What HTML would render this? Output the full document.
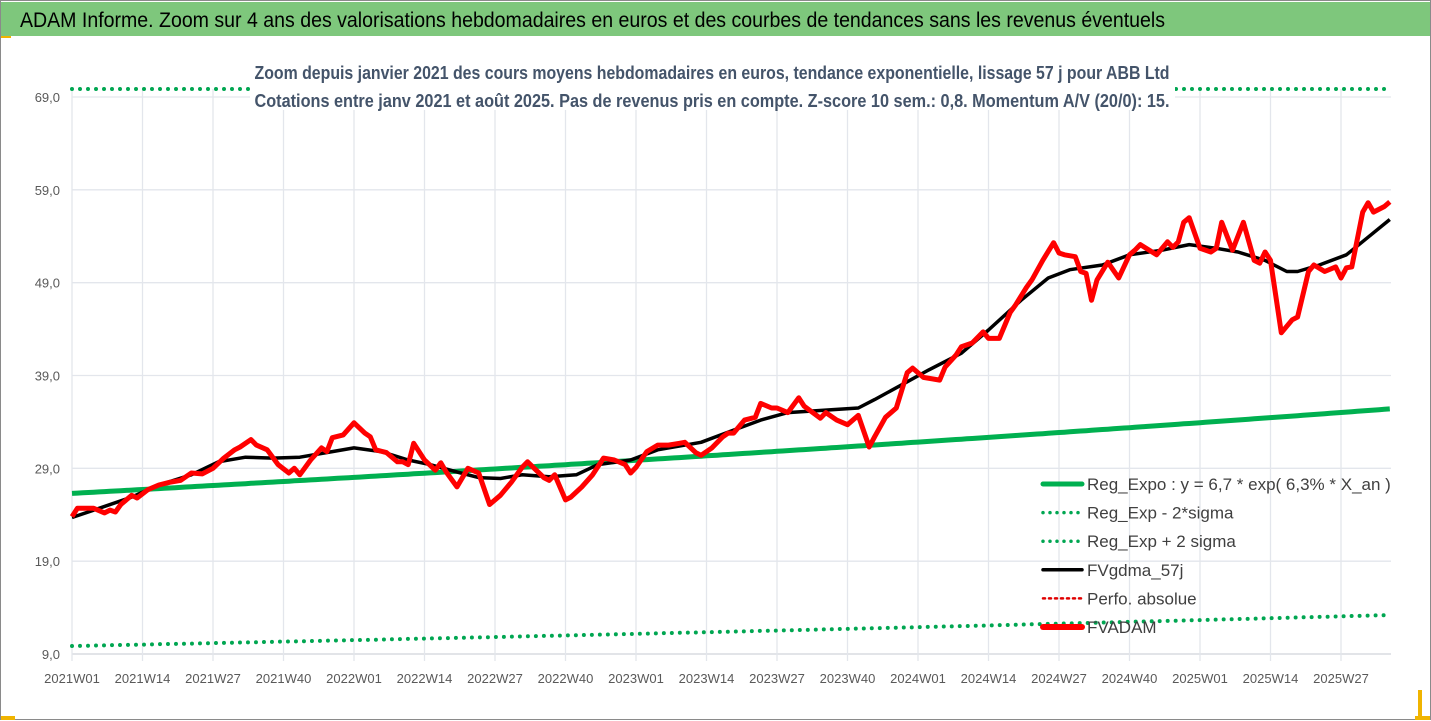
<!DOCTYPE html>
<html><head><meta charset="utf-8"><style>
html,body{margin:0;padding:0;background:#fff;}
svg{display:block;font-family:"Liberation Sans Narrow","Liberation Sans",sans-serif;}
</style></head><body>
<svg id="chart" width="1431" height="721" viewBox="0 0 1431 721" xmlns="http://www.w3.org/2000/svg">
<rect x="0" y="0" width="1431" height="721" fill="#fff"/>
<rect x="0.5" y="0.5" width="1430" height="719" fill="none" stroke="#8a8a8a"/>
<rect x="1" y="2" width="1429" height="34" fill="#7ec77c"/>
<text x="20" y="27" font-size="21" fill="#000" textLength="1145" lengthAdjust="spacingAndGlyphs">ADAM Informe. Zoom sur 4 ans des valorisations hebdomadaires en euros et des courbes de tendances sans les revenus éventuels</text>
<rect x="1" y="36" width="10" height="2" fill="#f0b400"/>
<rect x="1" y="716" width="14" height="4" fill="#f0b400"/>
<rect x="1418" y="690" width="4" height="30" fill="#f0b400"/>
<rect x="1415" y="716" width="15" height="4" fill="#f0b400"/>
<g id="grid"></g>
<g id="axes"></g>
<g id="series"></g>
<rect x="250" y="58" width="925" height="52" fill="#fff"/>
<text x="712" y="79" text-anchor="middle" font-size="18" font-weight="bold" fill="#44546a" textLength="915" lengthAdjust="spacingAndGlyphs">Zoom depuis janvier 2021 des cours moyens hebdomadaires en euros, tendance exponentielle, lissage 57 j pour ABB Ltd</text>
<text x="712" y="107" text-anchor="middle" font-size="18" font-weight="bold" fill="#44546a" textLength="915" lengthAdjust="spacingAndGlyphs">Cotations entre janv 2021 et août 2025. Pas de revenus pris en compte. Z-score 10 sem.: 0,8. Momentum A/V (20/0): 15.</text>
<g id="legend"></g>
</svg>
<script>
// ---- data ----
const xTickLabels = ["2021W01","2021W14","2021W27","2021W40","2022W01","2022W14","2022W27","2022W40","2023W01","2023W14","2023W27","2023W40","2024W01","2024W14","2024W27","2024W40","2025W01","2025W14","2025W27"];
const yTickValues = [9,19,29,39,49,59,69];
const yTickLabels = ["9,0","19,0","29,0","39,0","49,0","59,0","69,0"];
const lastWeek = 243;
const redWeeks = [0,1,4,6,7,8,9,11,12,14,16,18,20,22,24,26,28,30,31,33,34,36,38,40,41,42,44,46,47,48,50,52,54,55,56,58,60,61,62,63,65,67,68,69,71,73,75,77,79,81,83,84,87,88,89,91,92,94,96,98,100,102,103,104,106,108,110,112,113,115,116,118,120,121,122,124,126,127,129,130,132,134,135,138,139,141,143,145,147,148,150,152,154,155,157,160,161,163,164,166,168,169,171,173,174,176,177,179,181,182,183,185,186,187,188,189,191,193,195,196,197,200,202,203,204,205,206,208,210,211,212,214,216,218,219,220,221,223,225,226,228,229,231,233,234,235,236,238,239,240,242,243];
const redVals = [23.8,24.7,24.7,24.2,24.5,24.3,25.1,26.1,25.8,26.7,27.2,27.5,27.7,28.5,28.4,29.0,30.1,31.0,31.3,32.1,31.5,31.0,29.4,28.5,29.0,28.3,29.9,31.2,30.8,32.3,32.6,33.9,32.8,32.4,31.0,30.7,29.7,29.7,29.4,31.7,29.9,28.8,29.6,28.6,27.0,29.0,28.5,25.1,26.1,27.5,29.1,29.7,28.0,27.7,28.3,25.6,25.9,27.0,28.3,30.1,29.9,29.4,28.5,29.1,30.8,31.5,31.5,31.7,31.8,30.7,30.4,31.2,32.4,32.8,32.8,34.2,34.5,36.0,35.5,35.5,35.0,36.6,35.7,34.4,35.0,34.2,33.7,34.7,31.3,32.4,34.5,35.5,39.3,39.8,38.8,38.5,39.9,41.2,42.1,42.5,43.7,43.0,43.0,45.8,46.6,48.5,49.3,51.4,53.3,52.2,52.0,51.8,50.2,50.0,47.1,49.3,51.2,49.5,52.0,52.5,53.1,52.0,53.4,52.8,53.4,55.5,56.0,52.7,52.3,52.7,55.5,52.5,55.5,51.4,51.1,52.3,51.4,43.6,45.0,45.3,50.2,50.9,50.2,50.7,49.5,50.6,50.7,56.6,57.6,56.6,57.2,57.7];
const smaWeeks = [0,5,11,16,22,27,32,37,42,48,52,57,62,66,71,75,79,83,88,93,97,103,108,116,121,127,132,140,145,148,153,158,164,169,175,180,184,190,195,201,206,211,215,220,224,226,230,235,239,243];
const smaVals = [23.7,24.7,25.9,27.2,28.3,29.7,30.2,30.1,30.2,30.8,31.2,30.8,29.9,29.4,28.6,28.0,27.9,28.3,28.1,28.3,29.4,29.9,31.0,31.8,32.9,34.2,35.0,35.3,35.5,36.4,38.0,39.6,41.4,43.9,47.1,49.5,50.4,50.9,52.0,52.5,53.1,52.7,52.3,51.4,50.2,50.2,50.9,52.0,53.9,55.8];
const regStartEnd = [26.3,35.4];
const lowStartEnd = [9.86,13.2];
const upStartEnd = [70.2,94.4];
const legendLabels = ["Reg_Expo : y = 6,7 * exp( 6,3% *  X_an )","Reg_Exp - 2*sigma","Reg_Exp + 2 sigma","FVgdma_57j","Perfo. absolue","FVADAM"];

// ---- axes ----
const X0=72, X1=1391, YB=654, YT=97, VMIN=9, VMAX=69, PTOP=89;
const weekPx = 70.5/13;
const xs = w => X0 + w*weekPx;
const ys = v => YB - (v-VMIN)*(YB-YT)/(VMAX-VMIN);
const vTop = VMIN + (YB-PTOP)*(VMAX-VMIN)/(YB-YT);
const NS="http://www.w3.org/2000/svg";
function mk(tag, attrs, parent){const e=document.createElementNS(NS,tag);for(const k in attrs)e.setAttribute(k,attrs[k]);parent.appendChild(e);return e;}
const grid=document.getElementById('grid'), axes=document.getElementById('axes'), series=document.getElementById('series'), legend=document.getElementById('legend');

yTickValues.forEach((v,i)=>{
  const l=mk('line',{x1:X0,x2:X1,y1:ys(v),y2:ys(v),stroke:i===0?'#d0d3da':'#e3e6ec','stroke-width':1.3},grid);
  
  
  const t=mk('text',{x:60,y:ys(v)+5,'text-anchor':'end','font-size':13,fill:'#595959'},axes);
  t.textContent=yTickLabels[i];
  
  
});
xTickLabels.forEach((lab,i)=>{
  const x=xs(i*13);
  const l=mk('line',{x1:x,x2:x,y1:PTOP,y2:YB+7,stroke:'#e3e6ec','stroke-width':1.3},grid);
  
  
  const t=mk('text',{x:x,y:683,'text-anchor':'middle','font-size':13,fill:'#595959'},axes);
  t.textContent=lab;
  
  
});

function expPts(se){
  const r=Math.log(se[1]/se[0])/lastWeek, pts=[];
  for(let w=0;w<=lastWeek;w++){const v=Math.min(se[0]*Math.exp(r*w),vTop);pts.push(xs(w).toFixed(1)+','+ys(v).toFixed(1));}
  return pts.join(' ');
}
const up=mk('polyline',{points:expPts(upStartEnd),fill:'none',stroke:'#00a651','stroke-width':4,'stroke-dasharray':'0 8','stroke-linecap':'round'},series);


const lo=mk('polyline',{points:expPts(lowStartEnd),fill:'none',stroke:'#00a651','stroke-width':4,'stroke-dasharray':'0 8','stroke-linecap':'round'},series);


const rg=mk('polyline',{points:expPts(regStartEnd),fill:'none',stroke:'#00b050','stroke-width':5},series);


const sm=mk('polyline',{points:smaWeeks.map((w,i)=>xs(w).toFixed(1)+','+ys(smaVals[i]).toFixed(1)).join(' '),fill:'none',stroke:'#000','stroke-width':3.5,'stroke-linejoin':'round'},series);


const rd=mk('polyline',{points:redWeeks.map((w,i)=>xs(w).toFixed(1)+','+ys(redVals[i]).toFixed(1)).join(' '),fill:'none',stroke:'#ff0000','stroke-width':5,'stroke-linejoin':'round'},series);



// ---- legend ----
const lgStyles=[
 {stroke:'#00b050',w:5,d:null},{stroke:'#00a651',w:3.5,d:'0 7'},{stroke:'#00a651',w:3.5,d:'0 7'},
 {stroke:'#000',w:3.5,d:null},{stroke:'#e00000',w:2.5,d:'2 4'},{stroke:'#ff0000',w:6,d:null}];
legendLabels.forEach((lab,i)=>{
  const y=484+i*28.6, s=lgStyles[i];
  const a={x1:1043,x2:1082,y1:y,y2:y,stroke:s.stroke,'stroke-width':s.w,'stroke-linecap':'round'};
  if(s.d)a['stroke-dasharray']=s.d;
  const l=mk('line',a,legend);
  
  
  const t=mk('text',{x:1087,y:y+6,'font-size':17,fill:'#404040'},legend);
  t.textContent=lab;
  
  
});
</script>
</body></html>
